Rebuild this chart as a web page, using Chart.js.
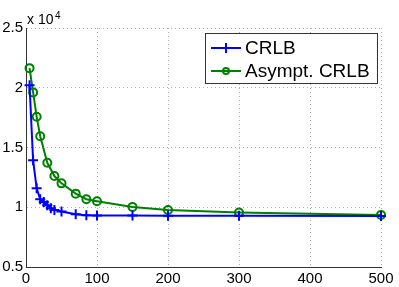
<!DOCTYPE html>
<html>
<head>
<meta charset="utf-8">
<script src="https://cdn.jsdelivr.net/npm/chart.js@4.4.0/dist/chart.umd.min.js"></script>
<style>
  html, body { margin: 0; padding: 0; background: #fff; }
  #wrap { width: 399px; height: 287px; }
</style>
</head>
<body>
<div id="wrap"><canvas id="crlbChart" width="399" height="287"></canvas></div>
<script>
// values (y in absolute units, axis shows x 10^4)
const crlbX = [5, 10, 15, 20, 25, 30, 35, 40, 50, 70, 85, 100, 150, 200, 300, 500];
const crlbY = [20200, 13940, 11580, 10670, 10440, 10170, 9920, 9780, 9640, 9420, 9330, 9320, 9300, 9290, 9280, 9260];
const asymX = [5, 10, 15, 20, 30, 40, 50, 70, 85, 100, 150, 200, 300, 500];
const asymY = [21640, 19610, 17580, 15940, 13720, 12610, 12000, 11140, 10670, 10500, 10030, 9770, 9560, 9360];
const xTicks = [0, 100, 200, 300, 400, 500];
const yTicks = [5000, 10000, 15000, 20000, 25000];

const FONT = '"Liberation Sans", Arial, sans-serif';

function toPoints(xs, ys) {
  return xs.map((x, i) => ({ x: x, y: ys[i] }));
}

// legend + exponent label, drawn the matlab way
const overlay = {
  id: 'overlay',
  afterDraw(chart) {
    const ctx = chart.ctx;
    const area = chart.chartArea;
    ctx.save();

    // "x 10^4" above the y axis
    ctx.fillStyle = '#000';
    ctx.textBaseline = 'alphabetic';
    ctx.textAlign = 'left';
    ctx.font = '14px ' + FONT;
    ctx.fillText('x 10', area.left + 1, 24);
    ctx.font = '10px ' + FONT;
    ctx.fillText('4', area.left + 29, 19);

    // legend box
    const bx = 205, by = 33, bw = 172, bh = 50;
    ctx.fillStyle = '#fff';
    ctx.fillRect(bx, by, bw, bh);
    ctx.strokeStyle = '#333';
    ctx.lineWidth = 1;
    ctx.strokeRect(bx + 0.5, by + 0.5, bw, bh);

    const rows = [48, 71];
    chart.data.datasets.forEach((ds, i) => {
      const y = rows[i];
      ctx.strokeStyle = ds.borderColor;
      ctx.lineWidth = 2;
      ctx.beginPath();
      ctx.moveTo(211, y);
      ctx.lineTo(241, y);
      ctx.stroke();
      if (ds.pointStyle === 'cross') {
        ctx.beginPath();
        ctx.moveTo(226, y - 5);
        ctx.lineTo(226, y + 5);
        ctx.stroke();
      } else {
        ctx.beginPath();
        ctx.arc(226, y, 3, 0, Math.PI * 2);
        ctx.stroke();
      }
      ctx.fillStyle = '#000';
      ctx.font = '19px ' + FONT;
      ctx.textBaseline = 'middle';
      ctx.fillText(ds.label, 245, y + 1);
    });
    ctx.restore();
  }
};

new Chart(document.getElementById('crlbChart'), {
  type: 'line',
  data: {
    datasets: [
      {
        label: 'CRLB',
        data: toPoints(crlbX, crlbY),
        borderColor: '#0000ff',
        backgroundColor: '#0000ff',
        borderWidth: 2,
        pointStyle: 'cross',
        pointRadius: 5,
        pointBorderWidth: 2,
        pointBorderColor: '#0000ff',
        tension: 0,
        clip: false
      },
      {
        label: 'Asympt. CRLB',
        data: toPoints(asymX, asymY),
        borderColor: '#008000',
        backgroundColor: 'rgba(0,0,0,0)',
        borderWidth: 2,
        pointStyle: 'circle',
        pointRadius: 4,
        pointBorderWidth: 2,
        pointBorderColor: '#008000',
        pointBackgroundColor: 'rgba(0,0,0,0)',
        tension: 0,
        clip: false
      }
    ]
  },
  options: {
    responsive: false,
    animation: false,
    events: [],
    layout: { padding: { top: 28, right: 18, left: 0, bottom: 0 } },
    plugins: {
      legend: { display: false },
      tooltip: { enabled: false }
    },
    scales: {
      x: {
        type: 'linear',
        min: 0,
        max: 500,
        afterBuildTicks: scale => { scale.ticks = xTicks.map(v => ({ value: v })); },
        afterFit: scale => { scale.height = 20; },
        ticks: {
          color: '#000',
          font: { family: FONT, size: 15 },
          padding: 3,
          maxRotation: 0
        },
        grid: { color: '#b0b0b0', lineWidth: 1, drawTicks: false },
        border: { display: true, color: '#333', width: 1, dash: [1, 3] }
      },
      y: {
        type: 'linear',
        min: 5000,
        max: 25000,
        afterBuildTicks: scale => { scale.ticks = yTicks.map(v => ({ value: v })); },
        afterFit: scale => { scale.width = 26; },
        ticks: {
          color: '#000',
          font: { family: FONT, size: 15 },
          padding: 3,
          callback: v => String(v / 10000)
        },
        grid: { color: '#b0b0b0', lineWidth: 1, drawTicks: false },
        border: { display: true, color: '#333', width: 1, dash: [1, 3] }
      }
    }
  },
  plugins: [overlay]
});
</script>
</body>
</html>
